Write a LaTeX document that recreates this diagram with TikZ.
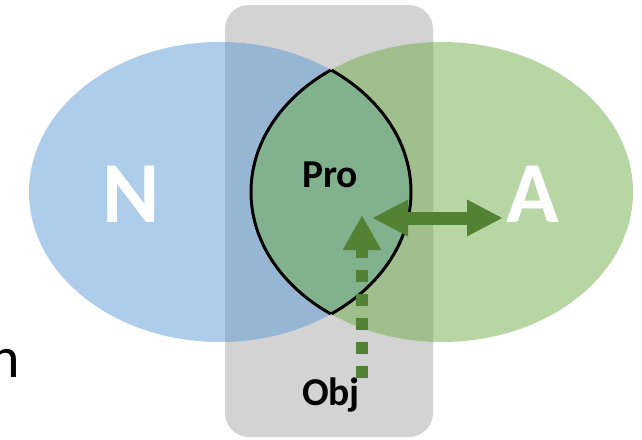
\documentclass[tikz,border=0pt]{standalone}
\usepackage{fontspec}
\setmainfont{Carlito}
\usepackage{xcolor}
\usepackage{tikz}
\definecolor{setblue}{HTML}{5B9BD5}
\definecolor{setgreen}{HTML}{70AD47}
\definecolor{arrowgreen}{HTML}{548235}
\definecolor{boxgray}{HTML}{D3D3D3}
\tikzstyle{set} = [ellipse, minimum width=382pt, minimum height=300pt,
    inner sep=0pt, fill opacity=0.5]
\tikzstyle{setname} = [text=white, inner sep=0pt, anchor=base,
    font=\bfseries\fontsize{87}{87}\selectfont]
\tikzstyle{role} = [inner sep=0pt, anchor=base,
    font=\bfseries\fontsize{39.5}{40}\selectfont]
\tikzstyle{bigarrow} = [draw=arrowgreen, line width=13pt]
\usetikzlibrary{arrows.meta}
\usetikzlibrary{positioning}
\usetikzlibrary{shapes.geometric}

\begin{document}
\begin{tikzpicture}[x=1pt,y=-1pt]
    \useasboundingbox (0,0) rectangle (642,439);

    \node[fill=boxgray, rounded corners=24pt, minimum width=208pt, minimum height=432pt, inner sep=0pt] (objbox) at (329,221) {};

    \node[set, fill=setblue] (nset) at (220,192) {};
    \node[set, fill=setgreen] (aset) at (442,192) {};

    \begin{scope}
        \clip (aset.center) ellipse [x radius=191pt, y radius=150pt];
        \draw[line width=3pt] (nset.center) ellipse [x radius=191pt, y radius=150pt];
    \end{scope}
    \begin{scope}
        \clip (nset.center) ellipse [x radius=191pt, y radius=150pt];
        \draw[line width=3pt] (aset.center) ellipse [x radius=191pt, y radius=150pt];
    \end{scope}

    \node[setname] (n) at (131,222) {N};
    \node[setname] (a) at (533,222) {A};
    \node[role] (pro) at (330,187) {Pro};
    \node[role] (obj) at (331,405) {Obj};

    \node[anchor=base east, inner sep=0pt, font=\fontsize{58}{58}\selectfont] (cut) at (20,377) {n};

    \coordinate (prohit) at (372,218);
    \coordinate (ahit) at (503,218);
    \coordinate (objstart) at (362,378);
    \coordinate (proup) at (362,215);

    \draw[bigarrow, {Triangle[length=36pt,width=34pt]}-{Triangle[length=36pt,width=34pt]}] (prohit) -- (ahit);
    \draw[bigarrow, line width=12pt, dash pattern=on 12pt off 12pt, -{Triangle[length=35pt,width=36pt]}] (objstart) -- (proup);
\end{tikzpicture}
\end{document}
